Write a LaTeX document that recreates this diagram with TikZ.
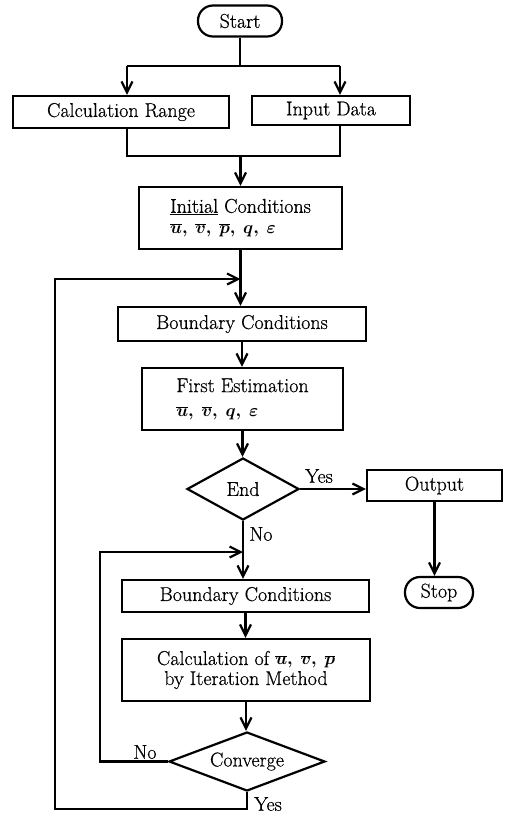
\RequirePackage{fix-cm}
\documentclass[tikz,border=0pt]{standalone}
\usepackage{fontspec}
\newfontfamily\diafont{Latin Modern Roman}[FakeBold=0.6]
\usepackage{bm}
\newcommand{\smallmath}{\fontsize{17.5}{19}\selectfont}
\usetikzlibrary{shapes.geometric,arrows.meta}
\begin{document}
\begin{tikzpicture}[x=1pt,y=-1pt,line width=2.2pt,
  font=\diafont\fontsize{20}{19}\selectfont,
  box/.style={draw,rectangle,inner sep=0pt,align=center},
  term/.style={draw,rectangle,rounded corners=15pt,inner sep=0pt},
  dia/.style={draw,diamond,inner sep=0pt},
  lbl/.style={inner sep=0pt},
  arr/.style={-{Straight Barb[length=11pt,width=11pt]}}]
\useasboundingbox (0,0) rectangle (508,814);
% nodes
\node[term,minimum width=84pt,minimum height=31pt] (start) at (240,21) {Start};
\node[box,minimum width=216pt,minimum height=32pt] (calc) at (121,112) {Calculation Range};
\node[box,minimum width=158pt,minimum height=29pt] (input) at (331,110.5) {Input Data};
\node[box,minimum width=203pt,minimum height=62pt,align=left] (init) at (240.5,218)
  {\underline{Initial} Conditions\\[2pt] {\smallmath$\bm{\overline{u},\;\overline{v},\;\overline{p},\;q,\;\varepsilon}$}};
\node[box,minimum width=248pt,minimum height=34pt] (bc1) at (242,324) {Boundary Conditions};
\node[box,minimum width=201pt,minimum height=62pt,align=left] (fe) at (242.5,399)
  {First Estimation\\[5pt] {\smallmath$\bm{\overline{u},\;\overline{v},\;q,\;\varepsilon}$}};
\node[dia,minimum width=112pt,minimum height=62pt,aspect=1.8] (end) at (243,489) {End};
\node[box,minimum width=135pt,minimum height=31pt] (output) at (434.5,485.5) {Output};
\node[term,minimum width=68pt,minimum height=31pt] (stop) at (439,592.5) {Stop};
\node[box,minimum width=247pt,minimum height=32pt] (bc2) at (245.5,596) {Boundary Conditions};
\node[box,minimum width=248pt,minimum height=62pt] (calc2) at (246,670)
  {Calculation of {\smallmath$\bm{\overline{u},\;\overline{v},\;\overline{p}}$}\\[1pt] by Iteration Method};
\node[dia,minimum width=156pt,minimum height=59pt,aspect=2.6] (conv) at (247,761.5) {Converge};
% labels
\node[lbl] (yes1) at (319,476) {Yes};
\node[lbl] (no1) at (261,534) {No};
\node[lbl] (no2) at (145,752) {No};
\node[lbl] (yes2) at (268,804) {Yes};
% coordinates
\coordinate (sj) at (240,66);
\coordinate (sl) at (127,66);
\coordinate (sr) at (340,66);
\coordinate (ml) at (127,156);
\coordinate (mr) at (340,156);
\coordinate (mj) at (240.5,156);
\coordinate (y1) at (55,809);
\coordinate (y2) at (55,279);
\coordinate (n1) at (100,552);
% connectors
\draw (start) -- (sj);
\draw (sl) -- (sr);
\draw[arr] (sl) -- (sl |- calc.north);
\draw[arr] (sr) -- (sr |- input.north);
\draw (ml |- calc.south) -- (ml) -- (mr) -- (mr |- input.south);
\draw[arr] (mj) -- (init.north);
\draw[arr] (init.south) -- (init.south |- bc1.north);
\draw[arr] (bc1.south) -- (bc1.south |- fe.north);
\draw[arr] (fe.south) -- (fe.south |- end.north);
\draw[arr] (end.east) -- (end.east -| output.west);
\draw[arr] (output.south) -- (output.south |- stop.north);
\draw[arr] (end.south) -- (end.south |- bc2.north);
\draw[arr] (bc2.south) -- (bc2.south |- calc2.north);
\draw[arr] (calc2.south) -- (calc2.south |- conv.north);
\draw[arr] (conv.west) -| (n1) -- (end.south |- n1);
\draw[arr] (conv.south) |- (y1) -- (y2) -- (init.south |- y2);
\end{tikzpicture}
\end{document}
